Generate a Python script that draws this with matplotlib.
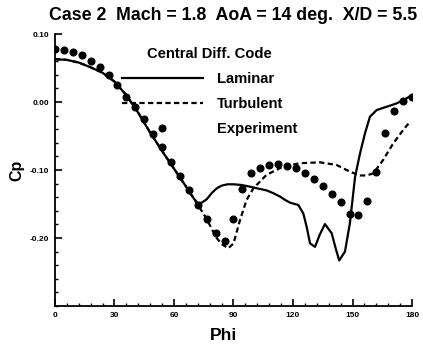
# Cp vs Phi, Case 2
import matplotlib
matplotlib.use('Agg')
import matplotlib.pyplot as plt
from matplotlib.lines import Line2D
from matplotlib.ticker import MultipleLocator

# Experimental data (every 4.5 deg)
phi_exp = [0, 4.5, 9, 13.5, 18, 22.5, 27, 31.5, 36, 40.5, 45, 49.5, 54, 58.5,
           63, 67.5, 72, 76.5, 81, 85.5, 90, 94.5, 99, 103.5, 108, 112.5, 117,
           121.5, 126, 130.5, 135, 139.5, 144, 148.5, 153, 157.5, 162, 166.5,
           171, 175.5, 180]
cp_exp = [0.078, 0.076, 0.073, 0.069, 0.061, 0.052, 0.039, 0.025, 0.008,
          -0.007, -0.025, -0.047, -0.066, -0.088, -0.109, -0.130, -0.152,
          -0.172, -0.193, -0.205, -0.1725, -0.1275, -0.105, -0.0966, -0.092,
          -0.091, -0.094, -0.0966, -0.105, -0.113, -0.123, -0.135, -0.147,
          -0.165, -0.166, -0.1456, -0.1034, -0.046, -0.0132, 0.002, 0.008]

# Laminar
phi_lam = [0, 6, 12, 18, 24, 30, 36, 42, 48, 54, 60, 66, 70, 72, 74, 76.5,
           79, 81.5, 84, 87, 90, 94, 98.3, 102, 106.7, 110, 113.4, 116, 118.5,
           122.7, 125.2, 127, 128.6, 131.1, 133.5, 136.1, 139.5, 141.5, 143.3,
           146.2, 148.7, 151.3, 153.8, 156.3, 158.8, 162.2, 167.2, 172.3,
           177.3, 179.8]
cp_lam = [0.063, 0.062, 0.058, 0.051, 0.043, 0.030, 0.010, -0.016, -0.045,
          -0.072, -0.098, -0.124, -0.142, -0.149, -0.148, -0.143, -0.134,
          -0.127, -0.123, -0.121, -0.121, -0.122, -0.1245, -0.127, -0.130,
          -0.134, -0.139, -0.144, -0.148, -0.1515, -0.164, -0.185, -0.208,
          -0.213, -0.195, -0.1795, -0.193, -0.215, -0.233, -0.220, -0.178,
          -0.110, -0.0755, -0.046, -0.0216, -0.0118, -0.007, -0.002, 0.0054,
          0.010]

# Turbulent
phi_turb = [0, 6, 12, 18, 24, 30, 36, 42, 48, 54, 60, 66, 70, 72, 76.5, 81,
            84, 87.4, 90, 93.3, 96.6, 100, 106.7, 115, 123.5, 133.6, 142,
            148.7, 153.8, 157, 160.5, 165.5, 170.5, 175.6, 179]
cp_turb = [0.063, 0.062, 0.058, 0.051, 0.043, 0.030, 0.010, -0.016, -0.045,
           -0.072, -0.098, -0.124, -0.142, -0.151, -0.172, -0.198, -0.209,
           -0.215, -0.208, -0.1735, -0.144, -0.127, -0.107, -0.095, -0.090,
           -0.0887, -0.0926, -0.1025, -0.108, -0.108, -0.105, -0.085, -0.061,
           -0.041, -0.029]

xticks = [0, 30, 60, 90, 120, 150, 180]
yticks = [0.10, 0.00, -0.10, -0.20]
ylabels = ['0.10', '0.00', '-0.10', '-0.20']

plt.rc('font', family='Liberation Sans', weight='bold')

fig = plt.figure(figsize=(4.23, 3.46), dpi=100)
ax = fig.add_axes([0.130, 0.1156, 0.844, 0.7861])

ax.plot(phi_lam, cp_lam, color='black', lw=1.6)
ax.plot(phi_turb, cp_turb, color='black', lw=1.6, dashes=(2.4, 1.5))
ax.plot(phi_exp, cp_exp, 'o', color='black', ms=4.8, ls='none')

ax.set_xlim(0, 180)
ax.set_ylim(-0.30, 0.10)
ax.spines['top'].set_visible(False)
ax.spines['right'].set_visible(False)
ax.spines['left'].set_linewidth(1.3)
ax.spines['bottom'].set_linewidth(1.3)

ax.set_xticks(xticks)
ax.set_xticklabels([str(v) for v in xticks])
ax.set_yticks(yticks)
ax.set_yticklabels(ylabels)
ax.xaxis.set_minor_locator(MultipleLocator(6))
ax.yaxis.set_minor_locator(MultipleLocator(0.02))
ax.tick_params(which='major', direction='in', length=5, width=1.2,
               labelsize=6, pad=4)
ax.tick_params(which='minor', direction='in', length=2.5, width=1)

ax.set_xlabel('Phi', fontsize=12.5, fontweight='bold')
ax.xaxis.set_label_coords(0.473, -0.082)
ax.set_ylabel('Cp', fontsize=11.5, fontweight='bold')
ax.yaxis.set_label_coords(-0.085, 0.5)
ax.set_title('Case 2  Mach = 1.8  AoA = 14 deg.  X/D = 5.5',
             fontsize=12.8, fontweight='bold', pad=10)

handles = [Line2D([], [], color='black', lw=1.6),
           Line2D([], [], color='black', lw=1.6, dashes=(2.4, 1.5)),
           Line2D([], [], color='black', marker='o', ms=4.8, ls='none')]
leg = ax.legend(handles, ['Laminar', 'Turbulent', 'Experiment'],
                title='Central Diff. Code', loc='upper left',
                bbox_to_anchor=(0.166, 0.978), frameon=False, fontsize=10.6,
                title_fontsize=10.6, handlelength=5.5, handletextpad=1.0,
                labelspacing=0.74, numpoints=1, borderpad=0)
leg.get_title().set_fontweight('bold')

plt.savefig('out.png', dpi=100)
